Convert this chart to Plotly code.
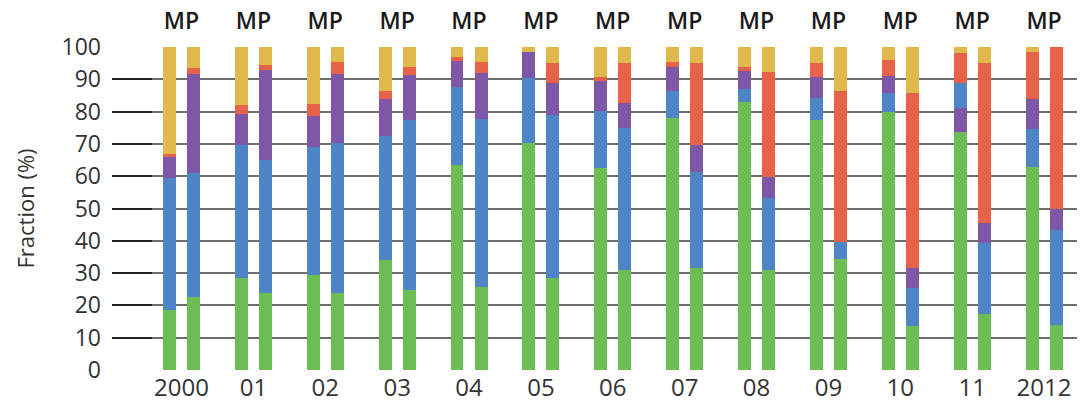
import plotly.graph_objects as go

years = ["2000", "01", "02", "03", "04", "05", "06", "07", "08", "09", "10", "11", "2012"]
top_label = "MP"

# Segment sizes (%) for the M bars, bottom to top
m_green = [18.6, 28.4, 29.4, 34.1, 63.5, 70.2, 62.6, 78.1, 83.1, 77.4, 80.0, 73.8, 62.9]
m_purple_low = [0, 0, 0, 0, 0, 0, 0, 0, 0, 0, 0, 7.4, 0]
m_blue = [40.8, 41.3, 39.7, 38.3, 24.2, 20.1, 17.6, 8.3, 3.8, 6.7, 5.9, 7.6, 11.6]
m_purple = [6.6, 9.5, 9.5, 11.4, 8.0, 8.0, 9.3, 7.5, 5.8, 6.7, 5.1, 0, 9.3]
m_red = [1.0, 2.8, 3.7, 2.6, 1.3, 0, 1.3, 1.6, 1.2, 4.1, 5.0, 9.2, 14.7]
m_yellow = [33.0, 18.0, 17.7, 13.6, 3.0, 1.7, 9.2, 4.5, 6.1, 5.1, 4.0, 2.0, 1.5]

# Segment sizes (%) for the P bars, bottom to top
p_green = [22.5, 23.7, 24.0, 24.8, 25.8, 28.4, 31.0, 31.7, 31.0, 34.3, 13.6, 17.5, 13.9]
p_purple_low = [0] * 13
p_blue = [38.4, 41.3, 46.2, 52.6, 51.8, 50.5, 43.8, 29.7, 22.2, 5.4, 11.7, 21.7, 29.6]
p_purple = [30.7, 27.9, 21.4, 13.9, 14.4, 9.8, 7.8, 8.3, 6.6, 0, 6.4, 6.2, 6.4]
p_red = [2.0, 1.5, 3.8, 2.6, 3.4, 6.4, 12.5, 25.4, 32.3, 46.8, 54.0, 49.5, 50.1]
p_yellow = [6.4, 5.6, 4.6, 6.1, 4.6, 4.9, 4.9, 4.9, 7.9, 13.5, 14.3, 5.1, 0]

colors = {
    "green": "#6cbd55",
    "purple_low": "#7e58a6",
    "blue": "#4e85c6",
    "purple": "#7e58a6",
    "red": "#e6634a",
    "yellow": "#dfb94b",
}

idx = list(range(len(years)))
off = 0.167
x_m = [i - off for i in idx]
x_p = [i + off for i in idx]

fig = go.Figure()
m_series = [m_green, m_purple_low, m_blue, m_purple, m_red, m_yellow]
p_series = [p_green, p_purple_low, p_blue, p_purple, p_red, p_yellow]
names = list(colors.keys())
for name, mv, pv in zip(names, m_series, p_series):
    fig.add_trace(go.Bar(
        x=x_m + x_p, y=mv + pv, width=0.18,
        marker=dict(color=colors[name], line=dict(width=0)),
        name=name, showlegend=False, hoverinfo="skip",
    ))

# invisible trace to anchor the top axis carrying the "MP" labels
fig.add_trace(go.Scatter(
    x=idx, y=[None] * len(idx), xaxis="x2", yaxis="y",
    mode="markers", marker=dict(opacity=0), showlegend=False, hoverinfo="skip",
))

fig.update_layout(
    barmode="stack",
    width=1077, height=406,
    margin=dict(l=104, r=5, t=38, b=43),
    paper_bgcolor="white", plot_bgcolor="white",
    font=dict(family="Open Sans", color="#333333"),
    bargap=0,
    xaxis=dict(
        range=[-0.967, 12.5], tickmode="array", tickvals=idx, ticktext=years,
        showgrid=False, zeroline=False, showline=False, ticks="",
        automargin=False,
        tickfont=dict(size=24, color="#333333"),
    ),
    xaxis2=dict(
        overlaying="x", side="top", range=[-0.967, 12.5],
        tickmode="array", tickvals=idx, ticktext=[top_label] * len(idx),
        showgrid=False, zeroline=False, showline=False, ticks="",
        automargin=False, ticklabelstandoff=11,
        tickfont=dict(family="Open Sans", size=23, color="#1a1a1a", weight=600),
    ),
)
fig.update_yaxes(
    range=[-0.3, 100.3], tickmode="array", tickvals=list(range(0, 101, 10)),
    showgrid=True, gridcolor="#6e6e6e", gridwidth=1.6, zeroline=False, showline=False,
    ticks="inside", ticklen=40, tickwidth=2, tickcolor="#222222",
    ticklabelstandoff=10, automargin=False,
    tickfont=dict(size=23, color="#333333"),
    title=dict(text="Fraction (%)", font=dict(size=22, color="#333333"), standoff=20),
)

fig.write_html("out.html")
